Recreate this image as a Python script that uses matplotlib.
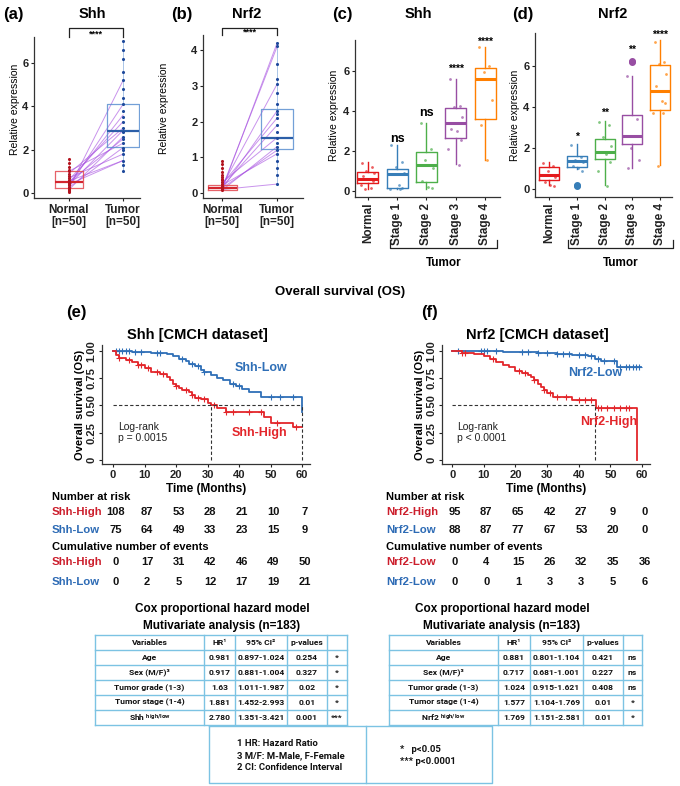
import matplotlib
matplotlib.use("Agg")
import matplotlib.pyplot as plt
import matplotlib.transforms as mtransforms
import numpy as np

plt.rcParams['font.family'] = ['Liberation Sans', 'DejaVu Sans']
plt.rcParams['font.weight'] = 'bold'
plt.rcParams['mathtext.default'] = 'regular'

# ---------------- data ----------------
# (a) Shh paired normal / tumor
a_normal_pts = [1.55, 1.4, 1.2, 1.05, 1.0, 0.9, 0.8, 0.7, 0.6, 0.55, 0.5, 0.45, 0.4, 0.35, 0.3, 0.25, 0.2, 0.15, 0.1, 0.05]
a_tumor_pts = [7.0, 6.6, 6.2, 5.6, 5.2, 4.8, 4.4, 4.1, 3.8, 3.5, 3.3, 3.0, 2.8, 2.6, 2.5, 2.3, 2.1, 2.0, 1.8, 1.5, 1.3, 1.0]
a_pair_normal = [0.2, 0.3, 0.45, 0.6, 0.9, 0.35, 0.15, 0.5, 1.0, 0.25, 0.7, 0.4, 0.55]
a_pair_tumor = [5.2, 4.1, 3.6, 3.3, 3.0, 2.9, 2.6, 2.5, 2.3, 2.1, 1.8, 1.5, 1.5]
a_box_normal = (0.05, 0.22, 0.51, 1.0, 1.55)   # whislo, q1, med, q3, whishi
a_box_tumor = (1.0, 2.13, 2.86, 4.1, 7.0)

# (b) Nrf2 paired normal / tumor
b_normal_pts = [0.9, 0.8, 0.7, 0.6, 0.5, 0.45, 0.4, 0.35, 0.3, 0.25, 0.2, 0.18, 0.15, 0.12, 0.1, 0.08]
b_tumor_pts = [4.2, 4.1, 3.6, 3.2, 3.05, 2.8, 2.5, 2.3, 2.2, 2.1, 1.9, 1.7, 1.55, 1.4, 1.3, 1.2, 1.1, 0.9, 0.7, 0.5, 0.25]
b_pair_normal = [0.1, 0.15, 0.2, 0.12, 0.25, 0.18, 0.3, 0.08, 0.14, 0.22, 0.1]
b_pair_tumor = [4.2, 4.1, 3.05, 2.3, 2.1, 1.9, 1.55, 1.3, 1.2, 1.1, 0.25]
b_box_normal = (0.05, 0.08, 0.14, 0.21, 0.9)
b_box_tumor = (0.25, 1.23, 1.55, 2.35, 4.2)

# (c) / (d) stage box plots
stage_names = ["Normal", "Stage 1", "Stage 2", "Stage 3", "Stage 4"]
stage_colors = ['#E41A1C', '#377EB8', '#4DAF4A', '#984EA3', '#FF7F00']

c_boxes = [(0.1, 0.38, 0.62, 0.95, 1.45), (0.1, 0.15, 0.83, 1.12, 2.28), (0.12, 0.45, 1.3, 1.95, 3.4),
           (1.33, 2.67, 3.4, 4.15, 5.58), (1.53, 3.62, 5.58, 6.15, 7.2)]
c_points = [[1.4, 1.2, 1.0, 0.9, 0.75, 0.6, 0.5, 0.3, 0.15, 0.1],
            [2.28, 1.45, 1.2, 0.9, 0.85, 0.3, 0.15, 0.12, 0.1],
            [3.4, 2.1, 1.55, 1.15, 0.5, 0.2, 0.15],
            [5.58, 4.25, 4.2, 3.7, 3.1, 3.0, 2.55, 2.1, 1.3],
            [7.2, 6.25, 5.95, 4.55, 3.3, 1.55]]
c_fliers = [[], [], [], [], []]
c_signif = ['', 'ns', 'ns', '****', '****']
c_signif_y = [0, 2.6, 3.9, 6.1, 7.45]

d_boxes = [(0.18, 0.46, 0.7, 1.07, 1.3), (0.95, 1.07, 1.38, 1.63, 2.2), (0.18, 1.48, 1.82, 2.44, 3.3),
           (1.0, 2.2, 2.58, 3.6, 5.5), (1.15, 3.85, 4.75, 6.05, 7.25)]
d_points = [[1.25, 1.1, 0.9, 0.6, 0.35, 0.2, 0.15],
            [2.15, 1.55, 1.4, 1.3, 1.1, 1.0, 0.9],
            [3.25, 3.1, 2.55, 2.1, 1.8, 1.7, 1.3, 0.9, 0.15],
            [5.5, 3.4, 2.0, 1.4, 1.0],
            [7.15, 6.2, 6.1, 5.6, 5.0, 4.3, 4.2, 3.7, 3.7, 1.1]]
d_fliers = [[], [0.2, 0.15], [], [6.25, 6.2], []]
d_signif = ['', '*', '**', '**', '****']
d_signif_y = [0, 2.55, 3.7, 6.8, 7.5]

# (e) Shh Kaplan-Meier
shh_high_t = [0, 1, 2, 4, 6, 8, 10, 12, 15, 17, 18, 19, 20, 21, 22, 24, 25, 26, 28, 30, 31, 33, 36, 48, 50, 57, 60]
shh_high_s = [1.0, 0.96, 0.94, 0.92, 0.90, 0.87, 0.84, 0.81, 0.79, 0.76, 0.73, 0.70, 0.68, 0.66, 0.64, 0.62,
              0.60, 0.57, 0.56, 0.52, 0.50, 0.48, 0.44, 0.39, 0.34, 0.30, 0.30]
shh_high_cens = [2, 5, 8, 9, 11, 14, 16, 20, 23, 25, 27, 29, 32, 36, 38, 43, 47, 52, 58]
shh_low_t = [0, 6, 12, 17, 19, 21, 23, 24, 26, 28, 29, 31, 33, 35, 37, 39, 41, 43, 47, 60]
shh_low_s = [1.0, 0.99, 0.98, 0.97, 0.95, 0.93, 0.91, 0.88, 0.86, 0.83, 0.81, 0.78, 0.75, 0.73, 0.70, 0.68,
             0.65, 0.62, 0.575, 0.44]
shh_low_cens = [1, 2, 3, 4, 5, 7, 9, 14, 15, 22, 25, 27, 29, 38, 40, 50, 53, 57]
shh_median = [31, 60]

# (f) Nrf2 Kaplan-Meier
nrf2_high_t = [0, 3, 7, 10, 12, 14, 16, 18, 20, 22, 24, 25, 26, 27, 28, 29, 30, 32, 38, 45.5, 58.5]
nrf2_high_s = [1.0, 0.98, 0.97, 0.95, 0.93, 0.90, 0.87, 0.85, 0.82, 0.80, 0.78, 0.76, 0.73, 0.70, 0.67,
               0.64, 0.61, 0.58, 0.55, 0.48, 0.0]
nrf2_high_cens = [3, 4, 13, 21, 23, 26, 29, 31, 33, 36, 40, 42, 44, 46, 47, 49, 51, 53, 55, 56]
nrf2_low_t = [0, 16, 27, 33, 38, 43, 45, 47, 52, 59.5]
nrf2_low_s = [1.0, 0.99, 0.98, 0.97, 0.96, 0.95, 0.93, 0.91, 0.85, 0.85]
nrf2_low_cens = [2, 9, 10, 11, 14, 22, 24, 27, 30, 33, 35, 37, 40, 42, 44, 46, 48, 51, 53, 55, 56, 57, 58, 59]
nrf2_median = [45]

# risk tables
risk_times = [0, 10, 20, 30, 40, 50, 60]
shh_high_risk = [108, 87, 53, 28, 21, 10, 7]
shh_low_risk = [75, 64, 49, 33, 23, 15, 9]
shh_high_events = [0, 17, 31, 42, 46, 49, 50]
shh_low_events = [0, 2, 5, 12, 17, 19, 21]
nrf2_high_risk = [95, 87, 65, 42, 27, 9, 0]
nrf2_low_risk = [88, 87, 77, 67, 53, 20, 0]
nrf2_high_events = [0, 4, 15, 26, 32, 35, 36]
nrf2_low_events = [0, 0, 1, 3, 3, 5, 6]

# Cox tables
cox_header = ["Variables", "HR\u00b9", "95% CI\u00b2", "p-values", ""]
cox_vars = ["Age", "Sex (M/F)\u00b3", "Tumor grade (1-3)", "Tumor stage (1-4)"]
shh_cox = [["0.981", "0.897-1.024", "0.254", "*"],
           ["0.917", "0.881-1.004", "0.327", "*"],
           ["1.63", "1.011-1.987", "0.02", "*"],
           ["1.881", "1.452-2.993", "0.01", "*"],
           ["2.780", "1.351-3.421", "0.001", "***"]]
nrf2_cox = [["0.881", "0.801-1.104", "0.421", "ns"],
            ["0.717", "0.681-1.001", "0.227", "ns"],
            ["1.024", "0.915-1.621", "0.408", "ns"],
            ["1.577", "1.104-1.769", "0.01", "*"],
            ["1.769", "1.151-2.581", "0.01", "*"]]
footnotes = ["1 HR: Hazard Ratio", "3 M/F: M-Male, F-Female", "2 CI: Confidence Interval"]
signif_notes = ["*   p<0.05", "*** p<0.0001"]

KM_RED = '#E3262B'
KM_BLUE = '#2F6FB7'
TXT_RED = '#CC1E2C'
TXT_BLUE = '#2D6BB5'
TABLE_LINE = '#7CC3E3'
TABLE_FONT = ['Roboto', 'DejaVu Sans']

# ---------------- figure ----------------
W, H = 680, 786
fig = plt.figure(figsize=(W / 100, H / 100), dpi=100)


def rect(l, t, r, b):
    return [l / W, 1 - b / H, (r - l) / W, (b - t) / H]


def clean(ax, size=8):
    for s in ['top', 'right']:
        ax.spines[s].set_visible(False)
    for s in ['left', 'bottom']:
        ax.spines[s].set_linewidth(0.9)
        ax.spines[s].set_color('#333333')
    ax.tick_params(length=2.5, width=0.8, labelsize=size, pad=1.5, colors='#222222')


def stats(b, fliers=()):
    return dict(whislo=b[0], q1=b[1], med=b[2], q3=b[3], whishi=b[4], fliers=list(fliers))


# overlay in pixel units for free text and tables
ov = fig.add_axes([0, 0, 1, 1], zorder=10)
ov.set_xlim(0, W)
ov.set_ylim(H, 0)
ov.axis('off')


def paired_panel(r, xlim, ylim, yticks, npts, tpts, pn, pt, nb, tb, br_y, title, tag, tag_x, title_x, ylab_x):
    ax = fig.add_axes(rect(*r))
    clean(ax)
    for n, t in zip(pn, pt):
        ax.plot([1, 2], [n, t], color='#A54CE0', lw=0.7, alpha=0.6, zorder=2)
    ax.bxp([stats(nb)], positions=[1], widths=0.52, showcaps=False, showfliers=False,
           boxprops=dict(color='#E2474F', lw=0.9, alpha=0.85),
           whiskerprops=dict(color='#E2474F', lw=0.6, alpha=0.6),
           medianprops=dict(color='#D3262F', lw=1.6))
    ax.bxp([stats(tb)], positions=[2], widths=0.58, showcaps=False, showfliers=False,
           boxprops=dict(color='#5B8FD0', lw=0.9, alpha=0.85),
           whiskerprops=dict(color='#5B8FD0', lw=0.6, alpha=0.6),
           medianprops=dict(color='#2C5FA8', lw=1.6))
    ax.scatter(np.ones(len(npts)), npts, s=5, color='#B3141F', zorder=3, lw=0)
    ax.scatter(np.full(len(tpts), 2), tpts, s=5, color='#1F4A9C', zorder=3, lw=0)
    ax.set_xlim(*xlim)
    ax.set_ylim(*ylim)
    ax.set_yticks(yticks)
    ax.set_xticks([1, 2])
    ax.set_xticklabels(["Normal\n[n=50]", "Tumor\n[n=50]"], fontsize=8.5, linespacing=1.1)
    ax.plot([1, 1, 2, 2], [ylim[1], br_y, br_y, ylim[1]], color='#222222', lw=0.9, clip_on=False)
    ax.text(1.5, ylim[1] + (br_y - ylim[1]) * 0.35, "****", ha='center', va='center', fontsize=6.5)
    ov.text(tag_x, 14, tag, fontsize=12, ha='left', va='center')
    ov.text(title_x, 14, title, fontsize=10.5, ha='center', va='center')
    ov.text(ylab_x, (r[1] + r[3]) / 2 - 8, "Relative expression", rotation=90, fontsize=7.5,
            fontweight='normal', ha='center', va='center')
    return ax


paired_panel((34, 37, 140, 198), (0.36, 2.31), (-0.23, 7.2), [0, 2, 4, 6],
             a_normal_pts, a_tumor_pts, a_pair_normal, a_pair_tumor, a_box_normal, a_box_tumor,
             7.62, "Shh", "(a)", 3, 92, 15)
paired_panel((203, 35, 303, 198), (0.65, 2.47), (-0.14, 4.42), [0, 1, 2, 3, 4],
             b_normal_pts, b_tumor_pts, b_pair_normal, b_pair_tumor, b_box_normal, b_box_tumor,
             4.62, "Nrf2", "(b)", 171, 247, 164)

jit = np.array([-0.2, 0.15, -0.05, 0.22, -0.15, 0.05, 0.18, -0.25, 0.1, -0.1])


def stage_panel(r, xlim, ylim, boxes, points, fliers, signif, signif_y, title, tag, tag_x, title_x,
                ylab_x, br_x):
    ax = fig.add_axes(rect(*r))
    clean(ax)
    pos = np.arange(1, len(stage_names) + 1)
    for p, b, pts, fl, col in zip(pos, boxes, points, fliers, stage_colors):
        ax.bxp([stats(b, fl)], positions=[p], widths=0.72, showcaps=False, showfliers=True,
               boxprops=dict(color=col, lw=1.0),
               whiskerprops=dict(color=col, lw=1.0),
               medianprops=dict(color=col, lw=2.2),
               flierprops=dict(marker='o', mfc=col, mec=col, ms=4))
        ax.scatter(p + jit[:len(pts)], pts, s=4, color=col, alpha=0.7, lw=0, zorder=3)
    for p, s, y in zip(pos, signif, signif_y):
        if s:
            ax.text(p, y, s, ha='center', va='center', fontsize=9 if s == 'ns' else 7.5)
    ax.set_xlim(*xlim)
    ax.set_ylim(*ylim)
    ax.set_yticks([0, 2, 4, 6])
    ax.set_xticks(pos)
    ax.set_xticklabels(stage_names, rotation=90, fontsize=8.5)
    tr = mtransforms.blended_transform_factory(ax.transData, ov.transData)
    ov.plot(br_x[:1] * 2 + br_x[1:] * 2, [240, 248, 248, 240], transform=tr, color='#222222', lw=0.9)
    ov.text(sum(br_x) / 2, 263, "Tumor", transform=tr, ha='center', va='center', fontsize=8.5)
    ov.text(tag_x, 14, tag, fontsize=12, ha='left', va='center')
    ov.text(title_x, 14, title, fontsize=10.5, ha='center', va='center')
    ov.text(ylab_x, 115, "Relative expression", rotation=90, fontsize=7.5,
            fontweight='normal', ha='center', va='center')
    return ax


stage_panel((355, 40, 500, 197), (0.56, 5.51), (-0.3, 7.55), c_boxes, c_points, c_fliers,
            c_signif, c_signif_y, "Shh", "(c)", 332, 418, 334, [1.75, 5.4])
stage_panel((535, 33, 672, 197), (0.5, 5.42), (-0.39, 7.6), d_boxes, d_points, d_fliers,
            d_signif, d_signif_y, "Nrf2", "(d)", 512, 613, 515, [1.68, 5.45])

ov.text(340, 292, "Overall survival (OS)", ha='center', va='center', fontsize=9.5)


def step_at(t, s, x):
    idx = np.searchsorted(t, x, side='right') - 1
    return np.asarray(s)[idx]


def km_panel(r, xlim, hi, lo, medians, title, title_x, tag, tag_x, pval, names, name_pos, ylab_x):
    ax = fig.add_axes(rect(*r))
    clean(ax, size=8)
    for (t, s, cens), col in zip([lo, hi], [KM_BLUE, KM_RED]):
        ax.step(t, s, where='post', color=col, lw=1.3)
        ax.plot(cens, step_at(t, s, cens), '+', color=col, ms=4.5, mew=0.8)
    m = max(medians)
    ax.plot([0, m], [0.5, 0.5], ls=(0, (3, 2)), color='#333333', lw=0.8)
    for mt in medians:
        ax.plot([mt, mt], [0, 0.5], ls=(0, (3, 2)), color='#333333', lw=0.8)
    ax.set_xlim(*xlim)
    ax.set_ylim(-0.037, 1.055)
    ax.set_xticks(risk_times)
    ax.set_yticks([0, 0.25, 0.5, 0.75, 1.0])
    ax.set_yticklabels(['0', '0.25', '0.50', '0.75', '1.00'], rotation=90, va='center')
    ax.text(1.5, 0.3, "Log-rank", fontsize=7.5, fontweight='normal', color='#222222', va='center')
    ax.text(1.5, 0.2, pval, fontsize=7.5, fontweight='normal', color='#222222', va='center')
    ax.text(name_pos[0][0], name_pos[0][1], names[1], color=KM_BLUE, fontsize=9, ha='left', va='center')
    ax.text(name_pos[1][0], name_pos[1][1], names[0], color=KM_RED, fontsize=9, ha='left', va='center')
    ov.text(title_x, 335, title, fontsize=10.5, ha='center', va='center')
    ov.text(tag_x, 313, tag, fontsize=12, ha='left', va='center')
    ov.text((r[0] + r[2]) / 2, 489, "Time (Months)", fontsize=8.5, ha='center', va='center')
    ov.text(ylab_x, 405, "Overall survival (OS)", fontsize=8, rotation=90, ha='center', va='center')
    return ax


def risk_table(ax, lab_x, names, rows):
    tr = mtransforms.blended_transform_factory(ax.transData, ov.transData)
    ov.text(lab_x, 497, "Number at risk", fontsize=8, va='center')
    ov.text(lab_x, 547, "Cumulative number of events", fontsize=8, va='center')
    cols = [TXT_RED, TXT_BLUE, TXT_RED, TXT_BLUE]
    for y, name, vals, col in zip([512, 530, 562, 582], names, rows, cols):
        ov.text(lab_x, y, name, color=col, fontsize=8.2, va='center')
        for t, v in zip(risk_times, vals):
            ov.text(t + 0.8, y, str(v), transform=tr, fontsize=8, ha='center', va='center', color='#111111')


axE = km_panel((102, 345, 310, 464), (-3.5, 62.5),
               (shh_high_t, shh_high_s, shh_high_cens), (shh_low_t, shh_low_s, shh_low_cens),
               shh_median, "Shh [CMCH dataset]", 197, "(e)", 66, "p = 0.0015",
               ["Shh-High", "Shh-Low"], [(38.5, 0.84), (37.5, 0.245)], 80)
risk_table(axE, 52, ["Shh-High", "Shh-Low", "Shh-High", "Shh-Low"],
           [shh_high_risk, shh_low_risk, shh_high_events, shh_low_events])

axF = km_panel((442, 345, 650, 464), (-3.2, 62.5),
               (nrf2_high_t, nrf2_high_s, nrf2_high_cens), (nrf2_low_t, nrf2_low_s, nrf2_low_cens),
               nrf2_median, "Nrf2 [CMCH dataset]", 537, "(f)", 421, "p < 0.0001",
               ["Nrf2-High", "Nrf2-Low"], [(36.5, 0.80), (40.5, 0.35)], 420)
risk_table(axF, 386, ["Nrf2-High", "Nrf2-Low", "Nrf2-Low", "Nrf2-Low"],
           [nrf2_high_risk, nrf2_low_risk, nrf2_high_events, nrf2_low_events])


def cox_table(cx, last_var, vals, title_x):
    ov.text(title_x, 609, "Cox proportional hazard model", fontsize=8.5, ha='center', va='center')
    ov.text(title_x, 626, "Mutivariate analysis (n=183)", fontsize=8.5, ha='center', va='center')
    ry = [635, 650, 665, 680, 695, 710, 725]
    for y in ry:
        ov.plot([cx[0], cx[-1]], [y, y], color=TABLE_LINE, lw=1.0)
    for x in cx:
        ov.plot([x, x], [ry[0], ry[-1]], color=TABLE_LINE, lw=1.0)
    rows = [cox_header] + [[v] + r for v, r in zip(cox_vars + [last_var], vals)]
    for i, row in enumerate(rows):
        yc = (ry[i] + ry[i + 1]) / 2
        for j, cell in enumerate(row):
            ov.text((cx[j] + cx[j + 1]) / 2, yc, cell, family=TABLE_FONT, fontweight='bold', fontsize=6.1,
                    ha='center', va='center', color='#111111')


cox_table([95, 204, 235, 287, 327, 347], "Shh $^{high/low}$", shh_cox, 222)
cox_table([389, 498, 530, 583, 623, 642], "Nrf2 $^{high/low}$", nrf2_cox, 502)

ov.plot([209, 492, 492, 209, 209], [726, 726, 783, 783, 726], color=TABLE_LINE, lw=1.0)
ov.plot([366, 366], [726, 783], color=TABLE_LINE, lw=1.0)
for i, s in enumerate(footnotes):
    ov.text(237, 744 + i * 11.5, s, family=TABLE_FONT, fontweight='bold', fontsize=6.8,
            va='center', color='#111111')
for i, s in enumerate(signif_notes):
    ov.text(400, 750 + i * 11.5, s, family=TABLE_FONT, fontweight='bold', fontsize=6.8,
            va='center', color='#111111')

fig.savefig("out.png", dpi=100)
